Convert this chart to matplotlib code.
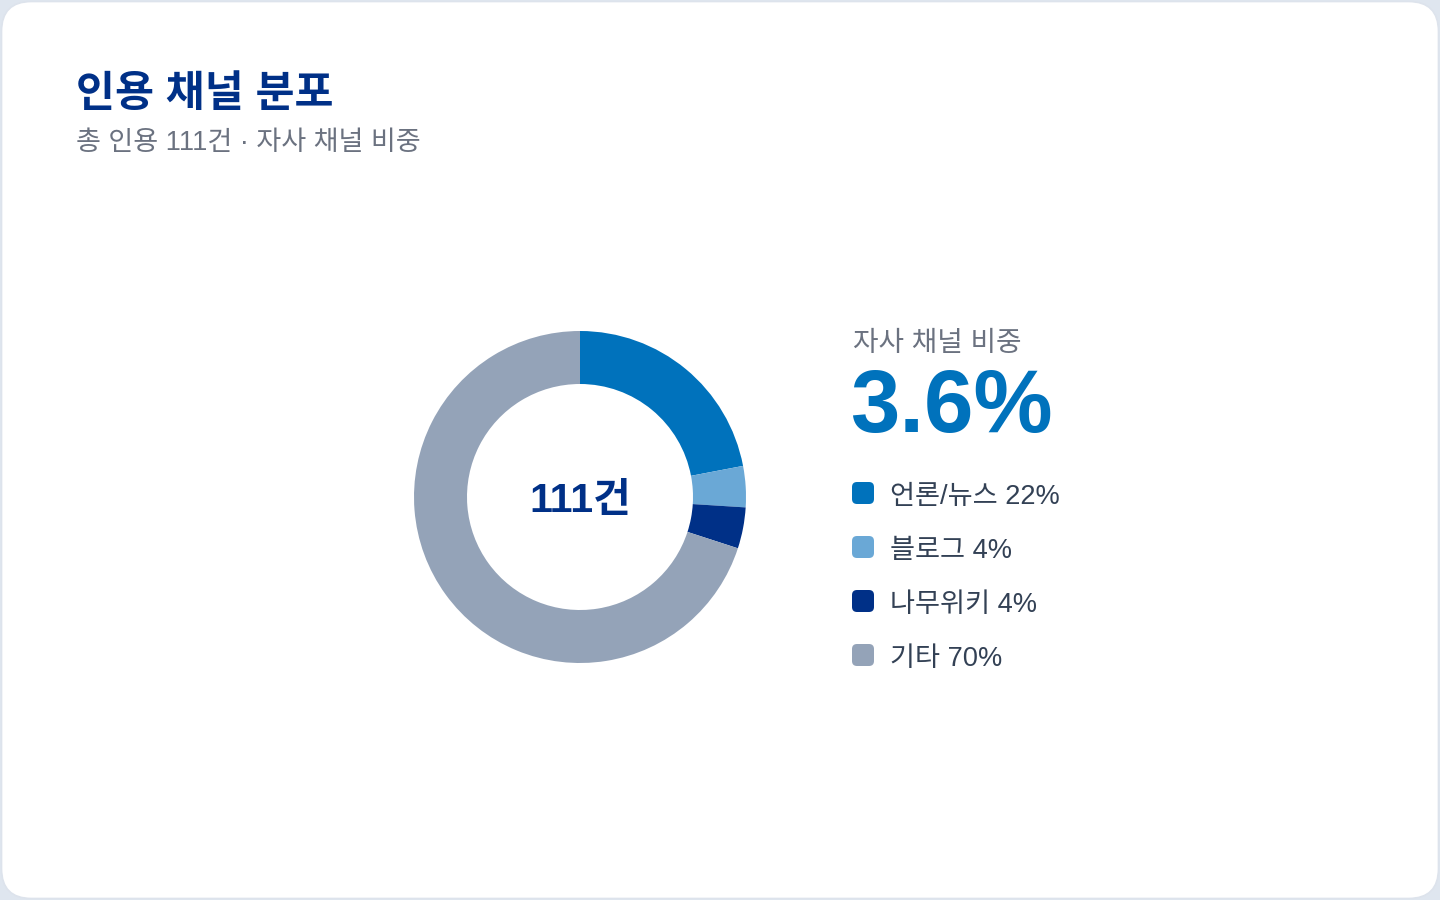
import matplotlib.pyplot as plt
from matplotlib.patches import FancyBboxPatch

plt.rcParams['font.family'] = ['Liberation Sans', 'Noto Sans CJK KR', 'DejaVu Sans']

# data
channels = ["언론/뉴스", "블로그", "나무위키", "기타"]
shares = [22, 4, 4, 70]
colors = ["#0072bc", "#6aa8d6", "#003087", "#94a3b8"]
total_citations = 111
own_share = 3.6

W, H = 1440, 900
fig = plt.figure(figsize=(W / 100, H / 100), dpi=100, facecolor="#dfe6ef")
ax = fig.add_axes([0, 0, 1, 1])


def py(y):
    # pixel y (from top) to data y
    return H - y


card = FancyBboxPatch((1.5, 1.5), W - 3, H - 3, boxstyle="round,pad=0,rounding_size=30",
                      facecolor="white", edgecolor="#dde3ec", linewidth=1.2)
ax.add_patch(card)

# donut
cx, cy, r_out, ring = 580, 497, 166, 53
ax.pie(shares, colors=colors, startangle=90, counterclock=False,
       center=(cx, py(cy)), radius=r_out,
       wedgeprops=dict(width=ring, linewidth=0, edgecolor="none"))
ax.text(cx, py(cy + 4), f"{total_citations}건", ha="center", va="center",
        fontsize=29.5, fontweight="bold", color="#003087")

# title
ax.text(76, py(95), "인용 채널 분포", ha="left", va="center",
        fontsize=30.5, fontweight="bold", color="#003087")
ax.text(76, py(143), f"총 인용 {total_citations}건 · 자사 채널 비중", ha="left", va="center",
        fontsize=19.5, color="#6b7280")

# right panel
ax.text(853, py(344), "자사 채널 비중", ha="left", va="center",
        fontsize=20, color="#6b7280")
ax.text(850, py(409), f"{own_share}%", ha="left", va="center",
        fontsize=64, fontweight="bold", color="#0072bc")

for i, (name, s, c) in enumerate(zip(channels, shares, colors)):
    y = 493 + i * 54
    sq = FancyBboxPatch((852, py(y) - 11), 22, 22, boxstyle="round,pad=0,rounding_size=5",
                        facecolor=c, edgecolor="none")
    ax.add_patch(sq)
    ax.text(890, py(y + 4), f"{name} {s}%", ha="left", va="center",
            fontsize=19.6, color="#334155")

ax.set_xlim(0, W)
ax.set_ylim(0, H)
ax.set_aspect("equal")
ax.axis("off")

fig.savefig("out.png", dpi=100, facecolor=fig.get_facecolor())
